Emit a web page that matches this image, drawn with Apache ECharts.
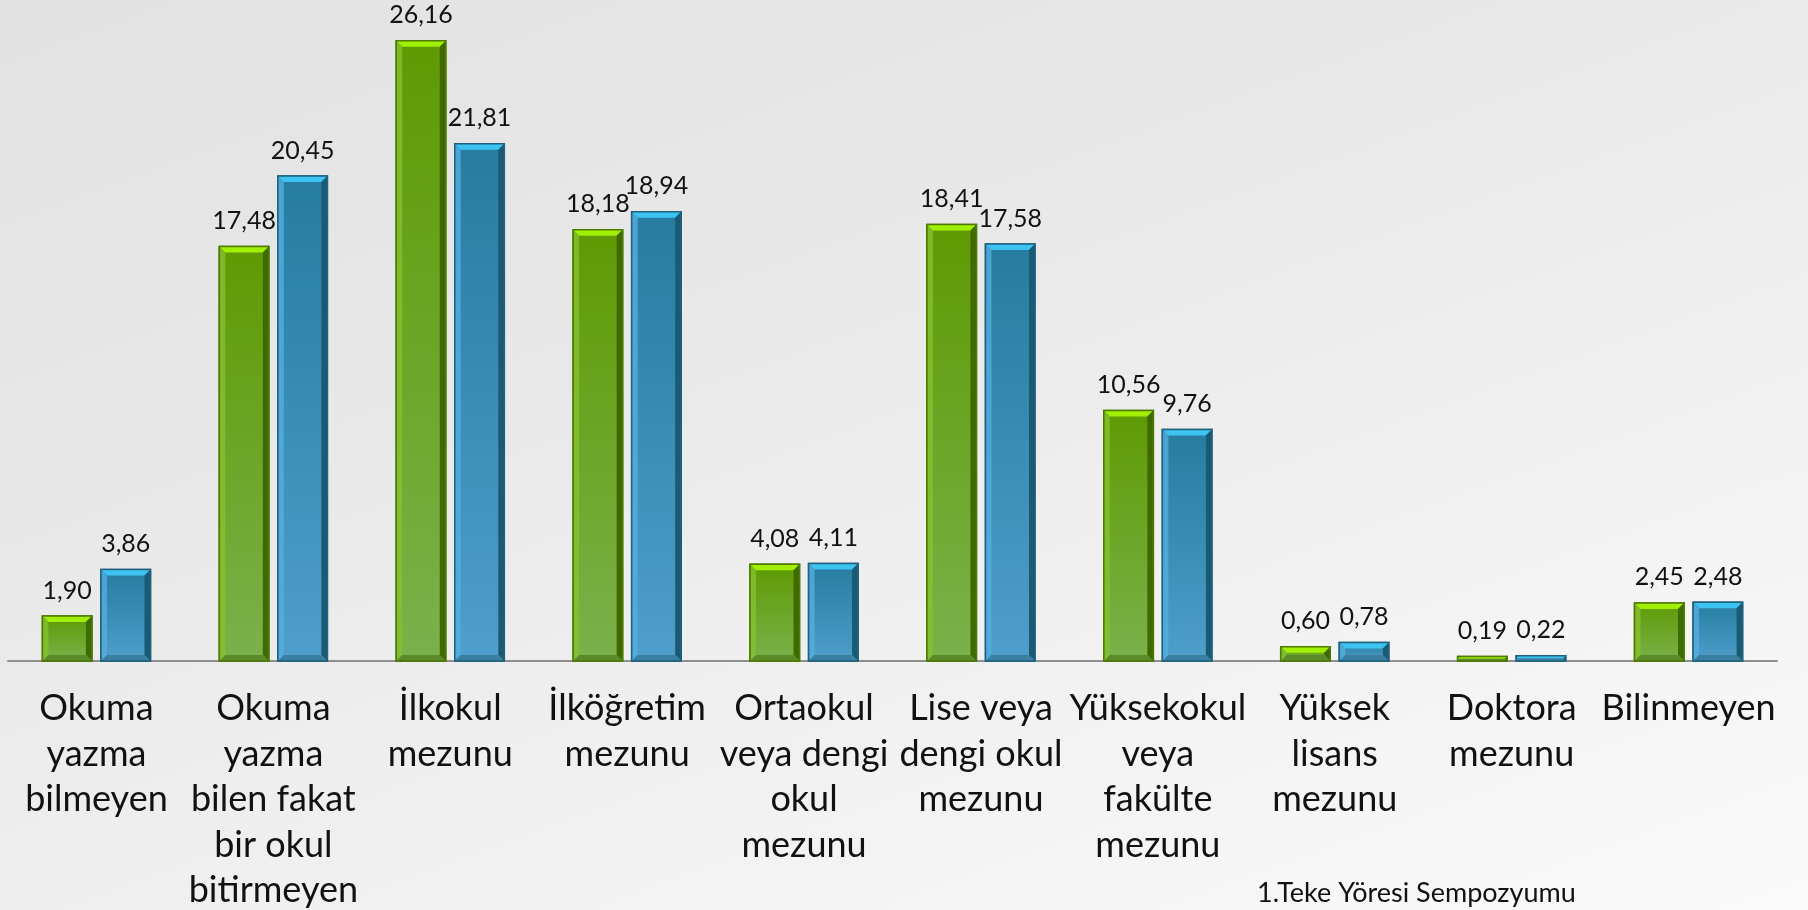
<!DOCTYPE html>
<html>
<head>
<meta charset="utf-8">
<script src="https://cdn.jsdelivr.net/npm/echarts@6/dist/echarts.min.js"></script>
<style>
  html, body {
    margin: 0;
    padding: 0;
  }
  body {
    background: linear-gradient(160deg, #e2e2e2 0%, #e8e8e8 35%, #f2f2f2 70%, #fafafa 100%);
  }
  #chart {
    width: 1808px;
    height: 910px;
  }
</style>
</head>
<body>
<div id="chart"></div>
<script>
const categories = [
  'Okuma\nyazma\nbilmeyen',
  'Okuma\nyazma\nbilen fakat\nbir okul\nbitirmeyen',
  'İlkokul\nmezunu',
  'İlköğretim\nmezunu',
  'Ortaokul\nveya dengi\nokul\nmezunu',
  'Lise veya\ndengi okul\nmezunu',
  'Yüksekokul\nveya\nfakülte\nmezunu',
  'Yüksek\nlisans\nmezunu',
  'Doktora\nmezunu',
  'Bilinmeyen'
];
const greenValues = [1.90, 17.48, 26.16, 18.18, 4.08, 18.41, 10.56, 0.60, 0.19, 2.45];
const blueValues = [3.86, 20.45, 21.81, 18.94, 4.11, 17.58, 9.76, 0.78, 0.22, 2.48];

// renkler: gövde, üst, sol, sağ, alt, kenar
const greenColors = {
  body: ['#5f9a03', '#7bb14c'],
  top: '#a2ef06', left: '#86c030', right: '#3f6a02', bottom: '#5a8a2a', border: '#4c7a02'
};
const blueColors = {
  body: ['#267c9f', '#4e9fcb'],
  top: '#3cc3f2', left: '#55aee0', right: '#1a5a74', bottom: '#3a7f9f', border: '#1f627e'
};

function fmt(v) {
  return v.toFixed(2).replace('.', ',');
}

// eğimli (bevel) çubuk çizimi
function bevelBar(side, colors) {
  return function (params, api) {
    const band = api.size([1, 0])[0];
    const barW = band * 0.28;
    const gap = band * 0.051;
    const base = api.coord([api.value(0), 0]);
    const topPt = api.coord([api.value(0), api.value(1)]);
    const x = side < 0 ? base[0] - gap / 2 - barW : base[0] + gap / 2;
    const y = topPt[1];
    const w = barW;
    const h = base[1] - topPt[1];
    const b = Math.min(6, h / 2, w / 2);
    return {
      type: 'group',
      children: [
        {
          type: 'rect',
          shape: { x: x, y: y, width: w, height: h },
          style: {
            fill: new echarts.graphic.LinearGradient(0, 0, 0, 1, [
              { offset: 0, color: colors.body[0] },
              { offset: 1, color: colors.body[1] }
            ]),
            stroke: colors.border,
            lineWidth: 1.5
          }
        },
        {
          type: 'polygon',
          shape: { points: [[x, y], [x + w, y], [x + w - b, y + b], [x + b, y + b]] },
          style: { fill: colors.top }
        },
        {
          type: 'polygon',
          shape: { points: [[x, y], [x + b, y + b], [x + b, y + h - b], [x, y + h]] },
          style: { fill: colors.left, opacity: 0.8 }
        },
        {
          type: 'polygon',
          shape: { points: [[x + w, y], [x + w, y + h], [x + w - b, y + h - b], [x + w - b, y + b]] },
          style: { fill: colors.right }
        },
        {
          type: 'polygon',
          shape: { points: [[x, y + h], [x + b, y + h - b], [x + w - b, y + h - b], [x + w, y + h]] },
          style: { fill: colors.bottom }
        },
        {
          type: 'rect',
          shape: { x: x, y: y, width: w, height: h },
          style: { fill: 'none', stroke: colors.border, lineWidth: 1.5 }
        },
        {
          type: 'text',
          style: {
            text: fmt(api.value(1)),
            x: x + w / 2,
            y: y - 13,
            align: 'center',
            verticalAlign: 'bottom',
            font: '25px Lato',
            fill: '#111'
          }
        }
      ]
    };
  };
}

const chart = echarts.init(document.getElementById('chart'), null, { renderer: 'canvas' });
const option = {
  backgroundColor: 'transparent',
  animation: false,
  grid: {
    left: 8,
    right: 31,
    top: -3,
    bottom: 249,
    outerBoundsMode: 'none'
  },
  xAxis: {
    type: 'category',
    data: categories,
    axisLine: {
      lineStyle: { color: '#8f8f8f', width: 2 }
    },
    axisTick: { show: false },
    axisLabel: {
      interval: 0,
      margin: 25,
      fontFamily: 'Lato',
      fontSize: 36,
      lineHeight: 45.5,
      color: '#111'
    }
  },
  yAxis: {
    type: 'value',
    min: 0,
    max: 28,
    show: false,
    splitLine: { show: false }
  },
  series: [
    {
      type: 'custom',
      name: 'green',
      renderItem: bevelBar(-1, greenColors),
      encode: { x: 0, y: 1 },
      data: greenValues.map((v, i) => [i, v]),
      z: 3
    },
    {
      type: 'custom',
      name: 'blue',
      renderItem: bevelBar(1, blueColors),
      encode: { x: 0, y: 1 },
      data: blueValues.map((v, i) => [i, v]),
      z: 3
    }
  ],
  graphic: [
    {
      type: 'text',
      left: 1257,
      top: 880,
      style: {
        text: '1.Teke Yöresi Sempozyumu',
        font: '27px Lato',
        fill: '#111'
      }
    }
  ]
};
chart.setOption(option);
</script>
</body>
</html>
